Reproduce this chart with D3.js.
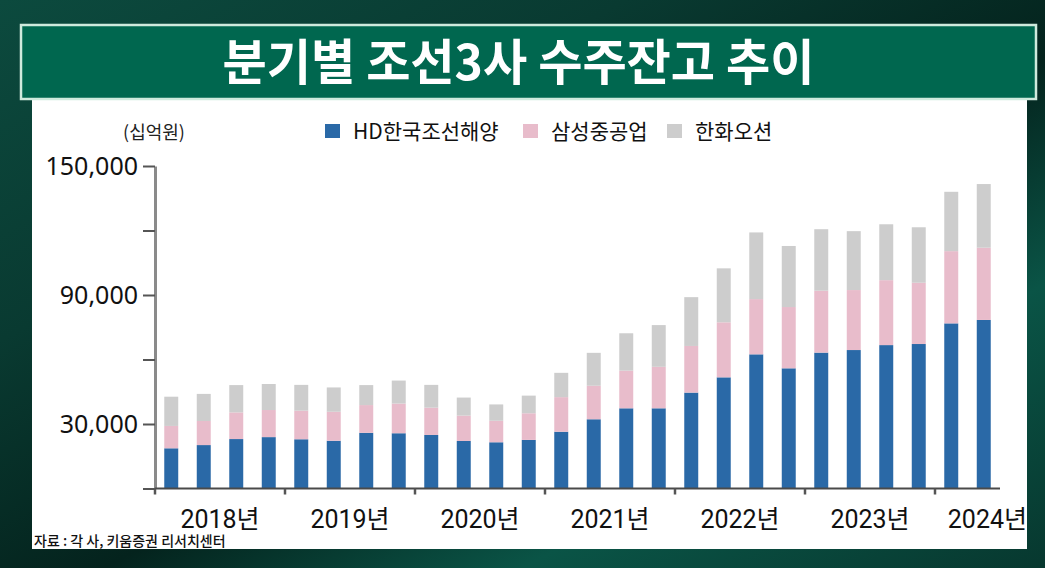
<!DOCTYPE html>
<html>
<head>
<meta charset="utf-8">
<script src="https://cdn.jsdelivr.net/npm/d3@7"></script>
<style>
  html, body { margin: 0; padding: 0; background: #062a22; }
  svg { display: block; }
</style>
</head>
<body>
<div id="chart"></div>
<script>
// quarterly order backlog, 2018 Q1 .. 2024 Q2 (KRW bn)
const quarters = ['18Q1','18Q2','18Q3','18Q4','19Q1','19Q2','19Q3','19Q4',
  '20Q1','20Q2','20Q3','20Q4','21Q1','21Q2','21Q3','21Q4',
  '22Q1','22Q2','22Q3','22Q4','23Q1','23Q2','23Q3','23Q4','24Q1','24Q2'];
const hdValues = [18700, 20200, 23000, 23900, 22900, 22200, 25900, 25700,
  24900, 22100, 21500, 22600, 26400, 32200, 37300, 37300,
  44600, 51700, 62400, 55900, 63200, 64400, 66700, 67200, 76800, 78400];
const samsungValues = [10400, 11200, 12400, 12600, 13300, 13500, 12900, 13800,
  12700, 11800, 10000, 12400, 16100, 15600, 17500, 19300,
  21700, 25600, 25700, 28500, 28800, 27900, 30200, 28500, 33600, 33600];
const hanwhaValues = [13600, 12600, 12700, 12100, 12000, 11300, 9300, 10700,
  10600, 8400, 7600, 8200, 11300, 15300, 17400, 19400,
  22700, 25100, 31000, 28400, 28600, 27400, 26000, 25800, 27600, 29600];
const seriesNames = ['HD한국조선해양', '삼성중공업', '한화오션'];
const yearLabels = ['2018년', '2019년', '2020년', '2021년', '2022년', '2023년', '2024년'];
const yTicks = [0, 30000, 60000, 90000, 120000, 150000];
const yTickLabels = ['', '30,000', '', '90,000', '', '150,000'];

const W = 1045, H = 568;
const COLORS = ['#2a69a7', '#e8bccb', '#cdcdcd'];
const KFONT = "'Noto Sans CJK KR', 'Noto Sans', sans-serif";

const svg = d3.select('#chart').append('svg')
  .attr('width', W).attr('height', H);

// background
const defs = svg.append('defs');
const bg = defs.append('linearGradient').attr('id', 'bg')
  .attr('x1', 0).attr('y1', 0).attr('x2', 1).attr('y2', 1);
[['0%', '#0c4a3e'], ['30%', '#093a31'], ['55%', '#04231d'], ['75%', '#0a5446'], ['100%', '#07382f']]
  .forEach(s => bg.append('stop').attr('offset', s[0]).attr('stop-color', s[1]));
svg.append('rect').attr('width', W).attr('height', H).attr('fill', 'url(#bg)');

// white chart panel
svg.append('rect')
  .attr('x', 32).attr('y', 96).attr('width', 995).attr('height', 453)
  .attr('fill', '#ffffff');

// title banner
svg.append('rect')
  .attr('x', 21).attr('y', 25).attr('width', 1015).attr('height', 74)
  .attr('fill', '#00674f')
  .attr('stroke', '#cfeadd').attr('stroke-width', 2.5);
svg.append('text')
  .attr('x', W / 2 - 4).attr('y', 80)
  .attr('text-anchor', 'middle')
  .attr('textLength', 592).attr('lengthAdjust', 'spacingAndGlyphs')
  .style('font-family', KFONT).style('font-weight', 700).style('font-size', '49px')
  .attr('fill', '#ffffff')
  .text('분기별 조선3사 수주잔고 추이');

// scales
const PLOT = { LEFT: 155, RIGHT: 1000, TOP: 166, BOTTOM: 488.5 };
const pad = 0.57;
const x = d3.scaleBand().domain(quarters)
  .range([PLOT.LEFT, PLOT.RIGHT]).paddingInner(pad).paddingOuter(pad / 2);
const y = d3.scaleLinear().domain([0, 150000]).range([PLOT.BOTTOM, PLOT.TOP]);

// stacked bars
const rows = quarters.map((q, i) => ({
  q, hd: hdValues[i], samsung: samsungValues[i], hanwha: hanwhaValues[i]
}));
const stack = d3.stack().keys(['hd', 'samsung', 'hanwha'])(rows);
svg.append('g').selectAll('g').data(stack).enter().append('g')
  .attr('fill', (d, i) => COLORS[i])
  .selectAll('rect').data(d => d).enter().append('rect')
  .attr('x', d => x(d.data.q))
  .attr('width', x.bandwidth())
  .attr('y', d => y(d[1]))
  .attr('height', d => y(d[0]) - y(d[1]));

// y axis
const yAxis = svg.append('g')
  .attr('transform', `translate(${PLOT.LEFT},0)`)
  .call(d3.axisLeft(y).tickValues(yTicks).tickSize(12).tickSizeOuter(0)
    .tickFormat((d, i) => yTickLabels[i]));
yAxis.select('.domain').attr('stroke', '#8a8a8a').attr('stroke-width', 3);
yAxis.selectAll('.tick line').attr('stroke', '#555').attr('stroke-width', 2);
yAxis.selectAll('.tick text')
  .attr('x', -17)
  .style('font-family', "'Noto Sans', sans-serif").style('font-size', '25px')
  .attr('fill', '#111');

// x axis with year boundary ticks
const gap = x.step() - x.bandwidth();
const boundaries = quarters.filter((q, i) => i % 4 === 0).map(q => x(q) - gap / 2);
const xg = svg.append('g');
xg.append('line')
  .attr('x1', PLOT.LEFT).attr('x2', PLOT.RIGHT)
  .attr('y1', PLOT.BOTTOM).attr('y2', PLOT.BOTTOM)
  .attr('stroke', '#4a4a4a').attr('stroke-width', 2);
xg.selectAll('.bt').data(boundaries).enter().append('line')
  .attr('x1', d => d).attr('x2', d => d)
  .attr('y1', PLOT.BOTTOM).attr('y2', PLOT.BOTTOM + 6)
  .attr('stroke', '#555').attr('stroke-width', 2.5);
xg.selectAll('.yl').data(yearLabels).enter().append('text')
  .attr('x', (d, i) => {
    const qs = quarters.slice(i * 4, i * 4 + 4);
    if (qs.length < 4) return PLOT.RIGHT + 27;
    return (x(qs[0]) + x(qs[3]) + x.bandwidth()) / 2;
  })
  .attr('text-anchor', (d, i) => quarters.slice(i * 4, i * 4 + 4).length < 4 ? 'end' : 'middle')
  .attr('y', 528)
  .style('font-family', "Roboto, 'Noto Sans CJK KR', sans-serif").style('font-size', '25px')
  .attr('fill', '#111')
  .text(d => d);

// unit label
svg.append('text')
  .attr('x', 154).attr('y', 139).attr('text-anchor', 'middle')
  .style('font-family', KFONT).style('font-size', '18px').attr('fill', '#222')
  .text('(십억원)');

// legend
const legendX = [325, 523, 667];
const legend = svg.append('g');
seriesNames.forEach((name, i) => {
  legend.append('rect')
    .attr('x', legendX[i]).attr('y', 124).attr('width', 15).attr('height', 14)
    .attr('fill', COLORS[i]);
  legend.append('text')
    .attr('x', legendX[i] + 28).attr('y', 139)
    .style('font-family', KFONT).style('font-size', '21px').attr('fill', '#111')
    .text(name);
});

// source
svg.append('text')
  .attr('x', 34).attr('y', 546)
  .style('font-family', KFONT).style('font-size', '14px').style('font-weight', 500)
  .attr('fill', '#111')
  .text('자료 : 각 사, 키움증권 리서치센터');
</script>
</body>
</html>
